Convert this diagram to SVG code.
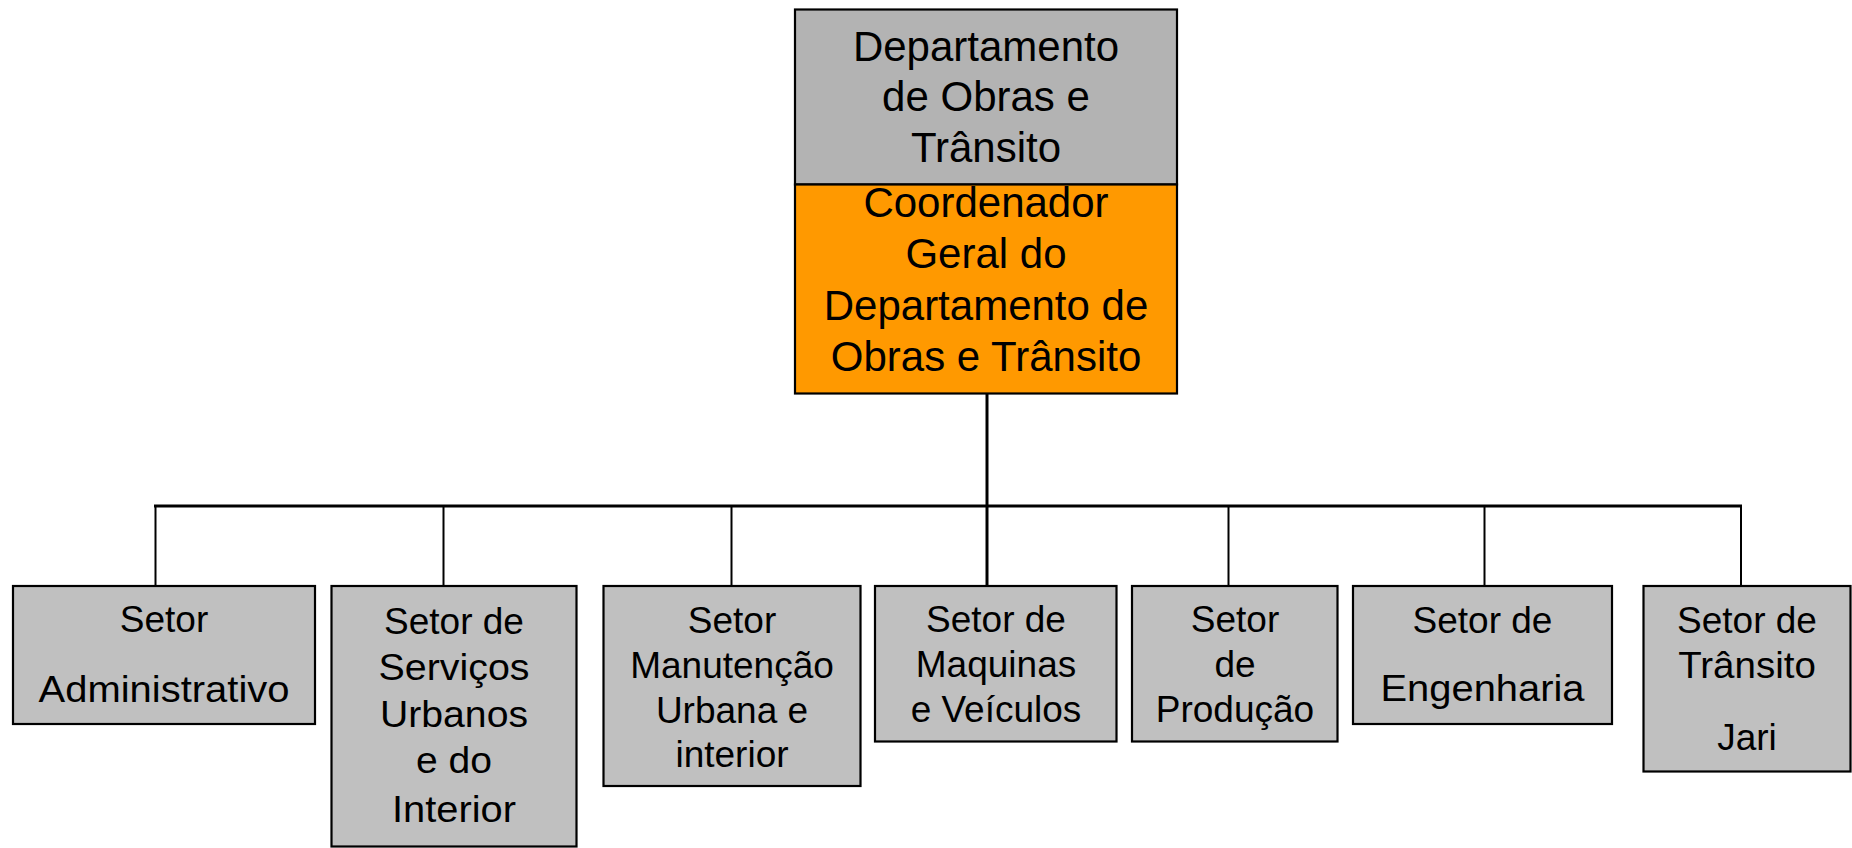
<svg xmlns="http://www.w3.org/2000/svg" width="1852" height="848" viewBox="0 0 1852 848">
<style>
.box{stroke:#000;stroke-width:2.2}
.top{fill:#b3b3b3}
.coord{fill:#ff9900}
.sec{fill:#c0c0c0}
text{font-family:"Liberation Sans",Arial,sans-serif;fill:#000;text-anchor:middle}
.big{font-size:42px}
.sm{font-size:37px}
.ln{stroke:#000;fill:none}
</style>
<rect width="1852" height="848" fill="#fff"/>
<g id="connectors">
<line class="ln" x1="987" y1="393" x2="987" y2="506" stroke-width="3"/>
<line class="ln" x1="154" y1="506" x2="1742" y2="506" stroke-width="3"/>
<line class="ln" x1="155.5" y1="506" x2="155.5" y2="586" stroke-width="2"/>
<line class="ln" x1="443.5" y1="506" x2="443.5" y2="586" stroke-width="2"/>
<line class="ln" x1="731.5" y1="506" x2="731.5" y2="586" stroke-width="2"/>
<line class="ln" x1="987" y1="506" x2="987" y2="586" stroke-width="3"/>
<line class="ln" x1="1228.5" y1="506" x2="1228.5" y2="586" stroke-width="2"/>
<line class="ln" x1="1484.5" y1="506" x2="1484.5" y2="586" stroke-width="2"/>
<line class="ln" x1="1741" y1="506" x2="1741" y2="586" stroke-width="2"/>
</g>
<g id="departamento">
<rect class="box top" x="795" y="9.5" width="382" height="175"/>
<text class="big" x="986" y="61">Departamento</text>
<text class="big" x="986" y="111">de Obras e</text>
<text class="big" x="986" y="162">Trânsito</text>
</g>
<g id="coordenador">
<rect class="box coord" x="795" y="184.5" width="382" height="209"/>
<text class="big" x="986" y="217">Coordenador</text>
<text class="big" x="986" y="268">Geral do</text>
<text class="big" x="986" y="320">Departamento de</text>
<text class="big" x="986" y="371">Obras e Trânsito</text>
</g>
<g id="setor-administrativo">
<rect class="box sec" x="13" y="586" width="302" height="138"/>
<text class="sm" x="164" y="632">Setor</text>
<text class="sm" x="164" y="702" textLength="251" lengthAdjust="spacingAndGlyphs">Administrativo</text>
</g>
<g id="setor-servicos">
<rect class="box sec" x="331.5" y="586" width="245" height="260.5"/>
<text class="sm" x="454" y="634">Setor de</text>
<text class="sm" x="454" y="680" textLength="151" lengthAdjust="spacingAndGlyphs">Serviços</text>
<text class="sm" x="454" y="727" textLength="148" lengthAdjust="spacingAndGlyphs">Urbanos</text>
<text class="sm" x="454" y="773" textLength="76" lengthAdjust="spacingAndGlyphs">e do</text>
<text class="sm" x="454" y="822" textLength="124" lengthAdjust="spacingAndGlyphs">Interior</text>
</g>
<g id="setor-manutencao">
<rect class="box sec" x="603.5" y="586" width="257" height="200"/>
<text class="sm" x="732" y="633">Setor</text>
<text class="sm" x="732" y="678">Manutenção</text>
<text class="sm" x="732" y="723">Urbana e</text>
<text class="sm" x="732" y="767">interior</text>
</g>
<g id="setor-maquinas">
<rect class="box sec" x="875" y="586" width="241.5" height="155.5"/>
<text class="sm" x="996" y="632">Setor de</text>
<text class="sm" x="996" y="677">Maquinas</text>
<text class="sm" x="996" y="722">e Veículos</text>
</g>
<g id="setor-producao">
<rect class="box sec" x="1132" y="586" width="205.5" height="155.5"/>
<text class="sm" x="1235" y="632">Setor</text>
<text class="sm" x="1235" y="677">de</text>
<text class="sm" x="1235" y="722">Produção</text>
</g>
<g id="setor-engenharia">
<rect class="box sec" x="1353" y="586" width="259" height="138"/>
<text class="sm" x="1482.5" y="633">Setor de</text>
<text class="sm" x="1482.5" y="701" textLength="204" lengthAdjust="spacingAndGlyphs">Engenharia</text>
</g>
<g id="setor-transito">
<rect class="box sec" x="1643.5" y="586" width="207" height="185.5"/>
<text class="sm" x="1747" y="633">Setor de</text>
<text class="sm" x="1747" y="678" textLength="137.7" lengthAdjust="spacingAndGlyphs">Trânsito</text>
<text class="sm" x="1747" y="750">Jari</text>
</g>
</svg>
